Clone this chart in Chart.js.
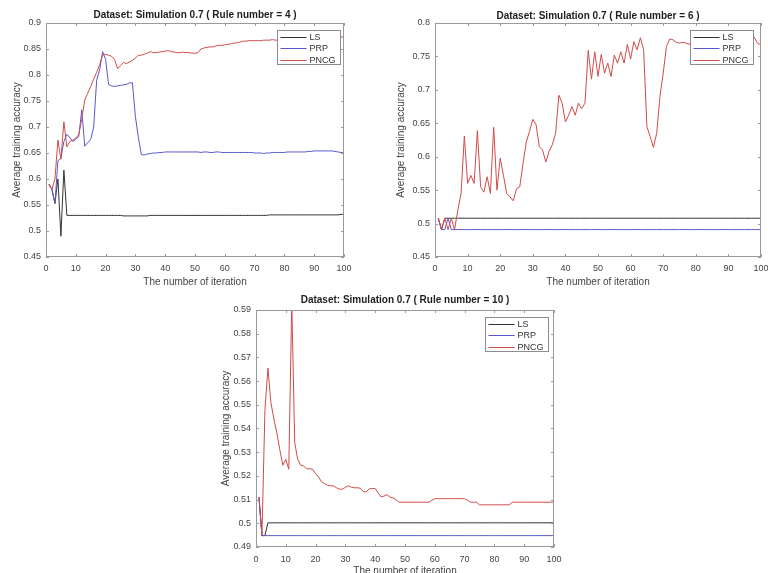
<!DOCTYPE html>
<html>
<head>
<meta charset="utf-8">
<title>Average training accuracy - Simulation 0.7</title>
<script src="https://cdn.jsdelivr.net/npm/chart.js@4.4.0/dist/chart.umd.min.js"></script>
<style>
  html, body { margin: 0; padding: 0; background: #fff; overflow: hidden; }
  canvas { position: absolute; }
</style>
</head>
<body>
<canvas id="rule4" width="384" height="290" style="left:0;top:0"></canvas>
<canvas id="rule6" width="384" height="290" style="left:384px;top:0"></canvas>
<canvas id="rule10" width="380" height="300" style="left:200px;top:285px"></canvas>
<script>
// iteration numbers on the x axis
const iterations = Array.from({ length: 100 }, (_, i) => i + 1);
const seriesNames = ['LS', 'PRP', 'PNCG'];

// Rule number = 4
const rule4Ls = [
  0.590, 0.580, 0.553, 0.600, 0.490, 0.617, 0.530, 0.530, 0.530, 0.530,
  0.530, 0.530, 0.530, 0.530, 0.530, 0.530, 0.530, 0.530, 0.530, 0.530,
  0.530, 0.530, 0.530, 0.530, 0.530, 0.529, 0.529, 0.529, 0.529, 0.529,
  0.529, 0.529, 0.529, 0.529, 0.530, 0.530, 0.530, 0.530, 0.530, 0.530,
  0.530, 0.530, 0.530, 0.530, 0.530, 0.530, 0.530, 0.530, 0.530, 0.530,
  0.530, 0.530, 0.530, 0.530, 0.530, 0.530, 0.530, 0.530, 0.530, 0.530,
  0.530, 0.530, 0.530, 0.530, 0.530, 0.530, 0.530, 0.530, 0.530, 0.530,
  0.530, 0.530, 0.530, 0.530, 0.531, 0.531, 0.531, 0.531, 0.531, 0.531,
  0.531, 0.531, 0.531, 0.531, 0.531, 0.531, 0.531, 0.531, 0.531, 0.531,
  0.531, 0.531, 0.531, 0.531, 0.531, 0.531, 0.531, 0.531, 0.532, 0.532
];
const rule4Prp = [
  0.590, 0.580, 0.553, 0.635, 0.640, 0.672, 0.686, 0.680, 0.672, 0.676,
  0.682, 0.733, 0.663, 0.670, 0.676, 0.700, 0.790, 0.810, 0.845, 0.830,
  0.782, 0.779, 0.778, 0.779, 0.780, 0.781, 0.782, 0.785, 0.785, 0.720,
  0.680, 0.647, 0.646, 0.648, 0.649, 0.650, 0.650, 0.651, 0.651, 0.652,
  0.652, 0.652, 0.652, 0.652, 0.652, 0.652, 0.652, 0.652, 0.652, 0.652,
  0.652, 0.651, 0.652, 0.652, 0.651, 0.651, 0.652, 0.652, 0.651, 0.651,
  0.651, 0.651, 0.651, 0.651, 0.651, 0.651, 0.651, 0.651, 0.651, 0.650,
  0.650, 0.650, 0.649, 0.650, 0.650, 0.651, 0.651, 0.651, 0.651, 0.651,
  0.652, 0.652, 0.652, 0.652, 0.652, 0.652, 0.652, 0.653, 0.653, 0.654,
  0.654, 0.654, 0.654, 0.654, 0.654, 0.654, 0.653, 0.652, 0.651, 0.650
];
const rule4Pncg = [
  0.590, 0.580, 0.600, 0.675, 0.638, 0.710, 0.662, 0.672, 0.675, 0.678,
  0.686, 0.715, 0.752, 0.765, 0.778, 0.792, 0.805, 0.820, 0.838, 0.840,
  0.838, 0.836, 0.830, 0.812, 0.818, 0.824, 0.822, 0.825, 0.828, 0.833,
  0.838, 0.838, 0.840, 0.842, 0.845, 0.843, 0.843, 0.844, 0.845, 0.846,
  0.847, 0.845, 0.844, 0.843, 0.843, 0.844, 0.843, 0.843, 0.842, 0.842,
  0.843, 0.850, 0.852, 0.853, 0.854, 0.854, 0.856, 0.857, 0.857, 0.858,
  0.859, 0.860, 0.861, 0.862, 0.863, 0.865, 0.865, 0.866, 0.866, 0.866,
  0.866, 0.866, 0.867, 0.867, 0.867, 0.868, 0.867, 0.867, 0.867, 0.867,
  0.868, 0.869, 0.870, 0.870, 0.870, 0.871, 0.871, 0.871, 0.872, 0.872,
  0.872, 0.872, 0.872, 0.872, 0.873, 0.873, 0.873, 0.873, 0.873, 0.873
];

// Rule number = 6
const rule6Ls = [
  0.508, 0.491, 0.508, 0.508, 0.508, 0.508, 0.508, 0.508, 0.508, 0.508,
  0.508, 0.508, 0.508, 0.508, 0.508, 0.508, 0.508, 0.508, 0.508, 0.508,
  0.508, 0.508, 0.508, 0.508, 0.508, 0.508, 0.508, 0.508, 0.508, 0.508,
  0.508, 0.508, 0.508, 0.508, 0.508, 0.508, 0.508, 0.508, 0.508, 0.508,
  0.508, 0.508, 0.508, 0.508, 0.508, 0.508, 0.508, 0.508, 0.508, 0.508,
  0.508, 0.508, 0.508, 0.508, 0.508, 0.508, 0.508, 0.508, 0.508, 0.508,
  0.508, 0.508, 0.508, 0.508, 0.508, 0.508, 0.508, 0.508, 0.508, 0.508,
  0.508, 0.508, 0.508, 0.508, 0.508, 0.508, 0.508, 0.508, 0.508, 0.508,
  0.508, 0.508, 0.508, 0.508, 0.508, 0.508, 0.508, 0.508, 0.508, 0.508,
  0.508, 0.508, 0.508, 0.508, 0.508, 0.508, 0.508, 0.508, 0.508, 0.508
];
const rule6Prp = [
  0.508, 0.491, 0.491, 0.508, 0.491, 0.491, 0.491, 0.491, 0.491, 0.491,
  0.491, 0.491, 0.491, 0.491, 0.491, 0.491, 0.491, 0.491, 0.491, 0.491,
  0.491, 0.491, 0.491, 0.491, 0.491, 0.491, 0.491, 0.491, 0.491, 0.491,
  0.491, 0.491, 0.491, 0.491, 0.491, 0.491, 0.491, 0.491, 0.491, 0.491,
  0.491, 0.491, 0.491, 0.491, 0.491, 0.491, 0.491, 0.491, 0.491, 0.491,
  0.491, 0.491, 0.491, 0.491, 0.491, 0.491, 0.491, 0.491, 0.491, 0.491,
  0.491, 0.491, 0.491, 0.491, 0.491, 0.491, 0.491, 0.491, 0.491, 0.491,
  0.491, 0.491, 0.491, 0.491, 0.491, 0.491, 0.491, 0.491, 0.491, 0.491,
  0.491, 0.491, 0.491, 0.491, 0.491, 0.491, 0.491, 0.491, 0.491, 0.491,
  0.491, 0.491, 0.491, 0.491, 0.491, 0.491, 0.491, 0.491, 0.491, 0.491
];
const rule6Pncg = [
  0.508, 0.491, 0.508, 0.491, 0.508, 0.491, 0.520, 0.545, 0.631, 0.560,
  0.572, 0.560, 0.639, 0.555, 0.547, 0.570, 0.545, 0.644, 0.550, 0.598,
  0.572, 0.545, 0.540, 0.534, 0.552, 0.555, 0.590, 0.622, 0.638, 0.656,
  0.648, 0.615, 0.610, 0.592, 0.608, 0.618, 0.635, 0.692, 0.680, 0.652,
  0.662, 0.675, 0.662, 0.680, 0.672, 0.680, 0.759, 0.716, 0.757, 0.720,
  0.753, 0.725, 0.740, 0.720, 0.752, 0.740, 0.757, 0.740, 0.768, 0.746,
  0.772, 0.760, 0.778, 0.760, 0.645, 0.630, 0.614, 0.635, 0.690, 0.725,
  0.765, 0.776, 0.775, 0.771, 0.770, 0.771, 0.770, 0.768, 0.775, 0.778,
  0.777, 0.776, 0.778, 0.780, 0.779, 0.778, 0.780, 0.781, 0.780, 0.782,
  0.781, 0.782, 0.783, 0.784, 0.785, 0.786, 0.785, 0.778, 0.769, 0.768
];

// Rule number = 10
const rule10Ls = [
  0.5110, 0.4948, 0.4948, 0.5002, 0.5002, 0.5002, 0.5002, 0.5002, 0.5002, 0.5002,
  0.5002, 0.5002, 0.5002, 0.5002, 0.5002, 0.5002, 0.5002, 0.5002, 0.5002, 0.5002,
  0.5002, 0.5002, 0.5002, 0.5002, 0.5002, 0.5002, 0.5002, 0.5002, 0.5002, 0.5002,
  0.5002, 0.5002, 0.5002, 0.5002, 0.5002, 0.5002, 0.5002, 0.5002, 0.5002, 0.5002,
  0.5002, 0.5002, 0.5002, 0.5002, 0.5002, 0.5002, 0.5002, 0.5002, 0.5002, 0.5002,
  0.5002, 0.5002, 0.5002, 0.5002, 0.5002, 0.5002, 0.5002, 0.5002, 0.5002, 0.5002,
  0.5002, 0.5002, 0.5002, 0.5002, 0.5002, 0.5002, 0.5002, 0.5002, 0.5002, 0.5002,
  0.5002, 0.5002, 0.5002, 0.5002, 0.5002, 0.5002, 0.5002, 0.5002, 0.5002, 0.5002,
  0.5002, 0.5002, 0.5002, 0.5002, 0.5002, 0.5002, 0.5002, 0.5002, 0.5002, 0.5002,
  0.5002, 0.5002, 0.5002, 0.5002, 0.5002, 0.5002, 0.5002, 0.5002, 0.5002, 0.5002
];
const rule10Prp = [
  0.5110, 0.4948, 0.4948, 0.4948, 0.4948, 0.4948, 0.4948, 0.4948, 0.4948, 0.4948,
  0.4948, 0.4948, 0.4948, 0.4948, 0.4948, 0.4948, 0.4948, 0.4948, 0.4948, 0.4948,
  0.4948, 0.4948, 0.4948, 0.4948, 0.4948, 0.4948, 0.4948, 0.4948, 0.4948, 0.4948,
  0.4948, 0.4948, 0.4948, 0.4948, 0.4948, 0.4948, 0.4948, 0.4948, 0.4948, 0.4948,
  0.4948, 0.4948, 0.4948, 0.4948, 0.4948, 0.4948, 0.4948, 0.4948, 0.4948, 0.4948,
  0.4948, 0.4948, 0.4948, 0.4948, 0.4948, 0.4948, 0.4948, 0.4948, 0.4948, 0.4948,
  0.4948, 0.4948, 0.4948, 0.4948, 0.4948, 0.4948, 0.4948, 0.4948, 0.4948, 0.4948,
  0.4948, 0.4948, 0.4948, 0.4948, 0.4948, 0.4948, 0.4948, 0.4948, 0.4948, 0.4948,
  0.4948, 0.4948, 0.4948, 0.4948, 0.4948, 0.4948, 0.4948, 0.4948, 0.4948, 0.4948,
  0.4948, 0.4948, 0.4948, 0.4948, 0.4948, 0.4948, 0.4948, 0.4948, 0.4948, 0.4948
];
const rule10Pncg = [
  0.5110, 0.4948, 0.5480, 0.5655, 0.5510, 0.5440, 0.5380, 0.5310, 0.5245, 0.5270,
  0.5228, 0.5930, 0.5340, 0.5270, 0.5245, 0.5242, 0.5230, 0.5230, 0.5228, 0.5210,
  0.5195, 0.5175, 0.5168, 0.5160, 0.5158, 0.5158, 0.5150, 0.5144, 0.5144, 0.5152,
  0.5158, 0.5152, 0.5150, 0.5150, 0.5148, 0.5133, 0.5133, 0.5145, 0.5147, 0.5147,
  0.5128, 0.5111, 0.5115, 0.5121, 0.5110, 0.5107, 0.5100, 0.5089, 0.5089, 0.5089,
  0.5089, 0.5089, 0.5089, 0.5089, 0.5089, 0.5089, 0.5089, 0.5089, 0.5097, 0.5104,
  0.5104, 0.5104, 0.5104, 0.5104, 0.5104, 0.5104, 0.5104, 0.5104, 0.5104, 0.5104,
  0.5097, 0.5089, 0.5089, 0.5089, 0.5078, 0.5078, 0.5078, 0.5078, 0.5078, 0.5078,
  0.5078, 0.5078, 0.5078, 0.5078, 0.5078, 0.5089, 0.5089, 0.5089, 0.5089, 0.5089,
  0.5089, 0.5089, 0.5089, 0.5089, 0.5089, 0.5089, 0.5089, 0.5089, 0.5089, 0.5089
];

const lineColors = ['#333333', '#5858cc', '#d24a4a'];
const FONT = '"Liberation Sans", Arial, Helvetica, sans-serif';

Chart.defaults.font.family = FONT;
Chart.defaults.color = '#444444';

// MATLAB look: box around the axes, inward ticks, title and boxed legend
const matlabFrame = {
  id: 'matlabFrame',
  afterDatasetsDraw(chart, args, opts) {
    const { ctx, chartArea: a, scales: { x, y } } = chart;
    ctx.save();
    ctx.lineWidth = 1;
    ctx.strokeStyle = '#9a9a9a';
    ctx.strokeRect(a.left + 0.5, a.top + 0.5, a.right - a.left - 1, a.bottom - a.top - 1);

    ctx.beginPath();
    x.ticks.forEach(t => {
      const px = Math.round(x.getPixelForValue(t.value)) + 0.5;
      ctx.moveTo(px, a.bottom); ctx.lineTo(px, a.bottom - 3);
      ctx.moveTo(px, a.top); ctx.lineTo(px, a.top + 3);
    });
    y.ticks.forEach(t => {
      const py = Math.round(y.getPixelForValue(t.value)) + 0.5;
      ctx.moveTo(a.left, py); ctx.lineTo(a.left + 3, py);
      ctx.moveTo(a.right, py); ctx.lineTo(a.right - 3, py);
    });
    ctx.stroke();

    // title, centred over the axes
    ctx.fillStyle = '#1e1e1e';
    ctx.font = 'bold 10px ' + FONT;
    ctx.textAlign = 'center';
    ctx.textBaseline = 'middle';
    ctx.fillText(opts.title, (a.left + a.right) / 2, opts.titleY);

    // legend box in the upper right corner
    const bw = 63, bh = 34;
    const bx = Math.round(a.right - opts.legendInset - bw) + 0.5;
    const by = Math.round(a.top + 7) + 0.5;
    ctx.fillStyle = '#fff';
    ctx.fillRect(bx, by, bw, bh);
    ctx.strokeStyle = '#8c8c8c';
    ctx.strokeRect(bx, by, bw, bh);
    ctx.font = '9px ' + FONT;
    ctx.textAlign = 'left';
    chart.data.datasets.forEach((ds, i) => {
      const ly = Math.round(by + 6 + i * 11.5) + 0.5;
      ctx.strokeStyle = ds.borderColor;
      ctx.beginPath();
      ctx.moveTo(bx + 3, ly);
      ctx.lineTo(bx + 29, ly);
      ctx.stroke();
      ctx.fillStyle = '#333';
      ctx.fillText(ds.label, bx + 32, ly);
    });
    ctx.restore();
  }
};

function tickLabel(v) {
  return String(Number(v.toFixed(3)));
}

function makeChart(id, series, opt) {
  const ctx = document.getElementById(id).getContext('2d');
  return new Chart(ctx, {
    type: 'line',
    data: {
      labels: iterations,
      datasets: series.map((values, i) => ({
        label: seriesNames[i],
        data: values,
        borderColor: lineColors[i],
        borderWidth: 1,
        pointRadius: 0,
        tension: 0,
        order: 3 - i   // PNCG drawn last, like the original plot
      }))
    },
    options: {
      responsive: false,
      animation: false,
      events: [],
      layout: { padding: { left: 0, top: opt.top, right: opt.right, bottom: 0 } },
      scales: {
        x: {
          type: 'linear',
          min: 0,
          max: 100,
          grid: { display: false, drawTicks: false },
          border: { display: false },
          ticks: { stepSize: 10, autoSkip: false, maxRotation: 0, padding: opt.xTickPad, font: { size: 9 } },
          title: { display: true, text: 'The number of iteration', font: { size: 10 }, padding: { top: 0, bottom: opt.xTitlePad } },
          afterFit(scale) {
            scale.height = opt.xHeight;
            scale.paddingLeft = 0;
            scale.paddingRight = 0;
          }
        },
        y: {
          min: opt.yMin,
          max: opt.yMax,
          grid: { display: false, drawTicks: false },
          border: { display: false },
          ticks: { stepSize: opt.yStep, autoSkip: false, padding: 5, font: { size: 9 }, callback: tickLabel },
          title: { display: true, text: 'Average training accuracy', font: { size: 10 }, padding: { top: opt.yTitlePad, bottom: 0 } },
          afterFit(scale) {
            scale.width = opt.yWidth;
            scale.paddingTop = 0;
            scale.paddingBottom = 0;
          }
        }
      },
      plugins: {
        legend: { display: false },
        tooltip: { enabled: false },
        matlabFrame: { title: opt.title, titleY: opt.titleY, legendInset: opt.legendInset }
      }
    },
    plugins: [matlabFrame]
  });
}

makeChart('rule4', [rule4Ls, rule4Prp, rule4Pncg], {
  title: 'Dataset: Simulation 0.7 ( Rule number = 4 )', titleY: 15,
  top: 23, right: 40, yWidth: 46, xHeight: 33,
  xTickPad: 6.5, xTitlePad: 2, yTitlePad: 11, legendInset: 4,
  yMin: 0.45, yMax: 0.9, yStep: 0.05
});

makeChart('rule6', [rule6Ls, rule6Prp, rule6Pncg], {
  title: 'Dataset: Simulation 0.7 ( Rule number = 6 )', titleY: 16,
  top: 23, right: 7, yWidth: 51, xHeight: 33,
  xTickPad: 6, xTitlePad: 2, yTitlePad: 11, legendInset: 8,
  yMin: 0.45, yMax: 0.8, yStep: 0.05
});

makeChart('rule10', [rule10Ls, rule10Prp, rule10Pncg], {
  title: 'Dataset: Simulation 0.7 ( Rule number = 10 )', titleY: 15,
  top: 25, right: 26, yWidth: 56, xHeight: 38,
  xTickPad: 7, xTitlePad: 8, yTitlePad: 20, legendInset: 6,
  yMin: 0.49, yMax: 0.59, yStep: 0.01
});
</script>
</body>
</html>
